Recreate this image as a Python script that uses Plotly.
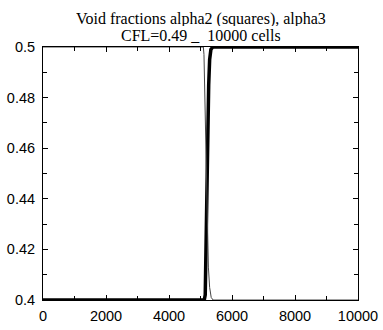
import plotly.graph_objects as go

# alpha2 (thick, squares) profile
alpha2_x = [0, 5120, 5150, 5170, 5200, 5230, 5260, 5290, 5330, 5390, 10000]
alpha2_y = [0.4, 0.4, 0.402, 0.42, 0.45, 0.47, 0.485, 0.495, 0.499, 0.5, 0.5]

# alpha3 (thin) profile
alpha3_x = [0, 5090, 5110, 5130, 5160, 5190, 5220, 5250, 5290, 5340, 5400, 10000]
alpha3_y = [0.5, 0.5, 0.497, 0.485, 0.46, 0.44, 0.425, 0.413, 0.405, 0.401, 0.4, 0.4]

title_lines = ["Void fractions alpha2 (squares), alpha3", "CFL=0.49 _\u00a0\u00a010000 cells"]
x_ticks = [0, 2000, 4000, 6000, 8000, 10000]
y_ticks = [0.4, 0.42, 0.44, 0.46, 0.48, 0.5]
y_tick_text = ["0.4", "0.42", "0.44", "0.46", "0.48", "0.5"]

fig = go.Figure()
fig.add_trace(go.Scatter(x=alpha2_x, y=alpha2_y, mode="lines",
                         line=dict(color="black", width=3.5), name="alpha2"))
fig.add_trace(go.Scatter(x=alpha3_x, y=alpha3_y, mode="lines",
                         line=dict(color="#444444", width=1), name="alpha3"))

axis_common = dict(
    showgrid=False, zeroline=False, showline=True, linecolor="black", linewidth=1,
    mirror="allticks", ticks="inside", ticklen=5, tickcolor="black", tickwidth=1,
    automargin=False,
    tickfont=dict(family="Liberation Sans, Arial, sans-serif", size=14.5, color="black"),
)
fig.update_xaxes(range=[0, 10000], tickvals=x_ticks, ticktext=[str(v) for v in x_ticks],
                 minor=dict(dtick=1000, ticks="inside", ticklen=4, tickcolor="black"),
                 ticklabelstandoff=3, **axis_common)
fig.update_yaxes(range=[0.4, 0.5], tickvals=y_ticks, ticktext=y_tick_text,
                 minor=dict(dtick=0.01, tick0=0.4, ticks="inside", ticklen=4, tickcolor="black"),
                 ticklabelstandoff=4, **axis_common)

plot_h = 330 - 47 - 30
title_font = dict(family="Liberation Serif, Times New Roman, serif", size=16, color="black")
annotations = []
for line, centre_px, box_h in zip(title_lines, [19.5, 35], [14, 17]):
    annotations.append(dict(text=line, xref="paper", yref="paper", x=0.5,
                            y=1 + (47 - centre_px) / plot_h, xanchor="center", yanchor="middle",
                            height=box_h, showarrow=False, font=title_font))

fig.update_layout(
    width=383, height=330,
    margin=dict(l=43, r=25, t=47, b=30),
    paper_bgcolor="white", plot_bgcolor="white",
    showlegend=False,
    annotations=annotations,
)
fig.write_html("out.html")
